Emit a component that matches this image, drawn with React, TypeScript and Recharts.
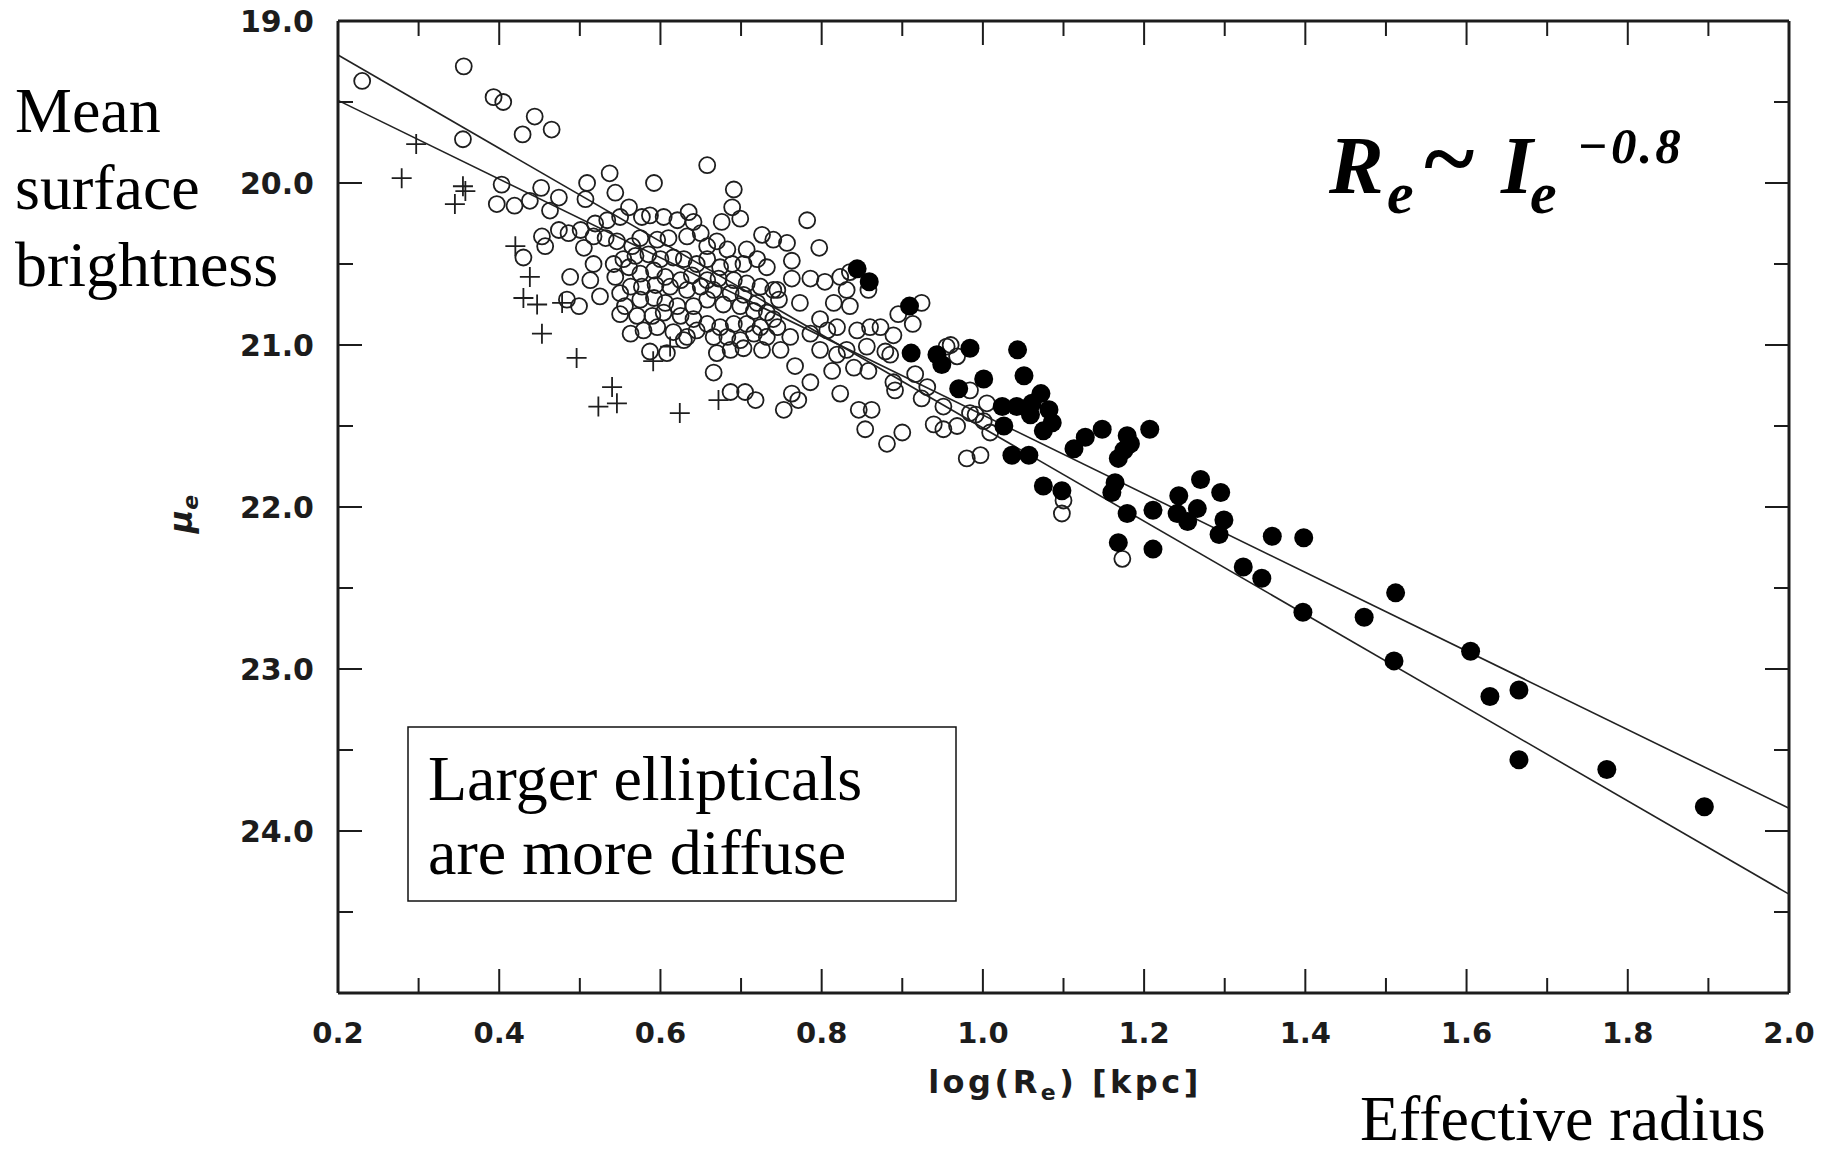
import React from 'react';
import { ScatterChart, Scatter, XAxis, YAxis, ReferenceLine } from 'recharts';

// ---------------- data ----------------
const xMajorTicks = [0.2, 0.4, 0.6, 0.8, 1.0, 1.2, 1.4, 1.6, 1.8, 2.0];
const xMinorTicks = [0.3, 0.5, 0.7, 0.9, 1.1, 1.3, 1.5, 1.7, 1.9];
const yMajorTicks = [19, 20, 21, 22, 23, 24];
const yMinorTicks = [19.5, 20.5, 21.5, 22.5, 23.5, 24.5];

// open circles: [log(Re), mu_e]
const openGalaxies: [number, number][] = [
  [0.230, 19.37], [0.356, 19.28], [0.393, 19.47], [0.405, 19.50], [0.444, 19.59], [0.429, 19.70],
  [0.465, 19.67], [0.355, 19.73], [0.403, 20.01], [0.452, 20.03], [0.397, 20.13], [0.419, 20.14],
  [0.438, 20.11], [0.463, 20.17], [0.474, 20.09], [0.453, 20.33], [0.457, 20.39], [0.474, 20.29],
  [0.430, 20.46], [0.537, 19.94], [0.658, 19.89],
  [0.509, 20.00], [0.507, 20.10], [0.544, 20.06], [0.561, 20.15], [0.592, 20.00], [0.691, 20.04],
  [0.689, 20.15], [0.676, 20.24], [0.699, 20.22], [0.635, 20.18], [0.641, 20.24], [0.621, 20.23],
  [0.604, 20.21], [0.587, 20.20], [0.577, 20.21], [0.550, 20.21], [0.534, 20.23], [0.519, 20.25],
  [0.501, 20.29], [0.486, 20.31], [0.505, 20.40], [0.517, 20.33], [0.532, 20.34], [0.546, 20.36],
  [0.565, 20.39], [0.575, 20.34], [0.596, 20.35], [0.610, 20.34], [0.633, 20.33], [0.650, 20.31],
  [0.658, 20.39], [0.670, 20.36], [0.683, 20.41], [0.707, 20.41], [0.726, 20.32], [0.740, 20.35],
  [0.720, 20.47], [0.732, 20.52], [0.703, 20.50], [0.689, 20.50], [0.674, 20.52], [0.658, 20.47],
  [0.645, 20.50], [0.629, 20.47], [0.616, 20.46], [0.600, 20.47], [0.585, 20.44], [0.569, 20.45],
  [0.554, 20.47], [0.542, 20.50], [0.517, 20.50], [0.488, 20.58], [0.513, 20.60], [0.544, 20.58],
  [0.561, 20.52], [0.575, 20.56], [0.592, 20.54], [0.606, 20.58], [0.625, 20.60], [0.639, 20.57],
  [0.658, 20.60], [0.672, 20.59], [0.691, 20.60], [0.707, 20.62], [0.724, 20.64], [0.740, 20.66],
  [0.747, 20.72], [0.720, 20.74], [0.703, 20.69], [0.687, 20.68], [0.666, 20.66], [0.650, 20.64],
  [0.633, 20.66], [0.612, 20.64], [0.594, 20.63], [0.577, 20.64], [0.563, 20.64], [0.550, 20.68],
  [0.525, 20.70], [0.499, 20.76], [0.484, 20.72], [0.556, 20.76], [0.575, 20.72], [0.592, 20.71],
  [0.606, 20.74], [0.621, 20.76], [0.641, 20.76], [0.658, 20.72], [0.678, 20.75], [0.699, 20.76],
  [0.716, 20.79], [0.732, 20.80], [0.740, 20.84], [0.724, 20.89], [0.707, 20.87], [0.691, 20.87],
  [0.674, 20.89], [0.658, 20.87], [0.641, 20.84], [0.625, 20.82], [0.604, 20.80], [0.590, 20.82],
  [0.571, 20.82], [0.550, 20.81], [0.563, 20.93], [0.579, 20.91], [0.596, 20.89], [0.616, 20.92],
  [0.633, 20.95], [0.645, 20.91], [0.666, 20.95], [0.683, 20.95], [0.699, 20.97], [0.716, 20.93],
  [0.732, 20.95], [0.726, 21.03], [0.703, 21.02], [0.687, 21.03], [0.670, 21.05], [0.629, 20.97],
  [0.587, 21.04], [0.608, 21.05],
  [0.782, 20.23], [0.757, 20.37], [0.797, 20.40], [0.763, 20.48], [0.786, 20.59], [0.804, 20.61],
  [0.823, 20.58], [0.835, 20.55], [0.858, 20.66], [0.831, 20.66], [0.763, 20.59], [0.745, 20.66],
  [0.773, 20.74], [0.924, 20.74], [0.895, 20.81], [0.913, 20.87], [0.815, 20.74], [0.835, 20.76],
  [0.798, 20.84], [0.819, 20.89], [0.844, 20.91], [0.860, 20.89], [0.873, 20.89], [0.889, 20.94],
  [0.761, 20.95], [0.745, 20.89], [0.786, 20.93], [0.798, 21.03], [0.831, 21.03], [0.856, 21.01],
  [0.879, 21.04], [0.955, 21.01], [0.807, 20.91],
  [0.749, 21.03], [0.767, 21.13], [0.786, 21.23], [0.763, 21.30], [0.771, 21.34], [0.753, 21.40],
  [0.819, 21.06], [0.813, 21.16], [0.823, 21.30], [0.846, 21.40], [0.862, 21.40], [0.854, 21.52],
  [0.881, 21.61], [0.900, 21.54], [0.840, 21.14], [0.858, 21.16], [0.889, 21.23], [0.891, 21.28],
  [0.916, 21.18], [0.931, 21.26], [0.924, 21.33], [0.968, 21.07], [0.984, 21.28], [0.951, 21.38],
  [0.939, 21.49], [0.951, 21.52], [0.968, 21.50], [0.984, 21.42], [1.005, 21.36], [1.001, 21.47],
  [1.009, 21.54], [0.980, 21.70], [0.997, 21.68], [0.885, 21.06],
  [0.960, 21.00], [0.991, 21.43], [1.098, 22.04], [1.100, 21.96], [1.173, 22.32],
  [0.666, 21.17], [0.687, 21.29], [0.705, 21.29], [0.718, 21.34],
];

// crosses: [log(Re), mu_e]
const crossGalaxies: [number, number][] = [
  [0.297, 19.76], [0.279, 19.97], [0.355, 20.02], [0.358, 20.05], [0.345, 20.13], [0.420, 20.39],
  [0.438, 20.58], [0.430, 20.71], [0.447, 20.75], [0.478, 20.74], [0.453, 20.93], [0.496, 21.08],
  [0.540, 21.26], [0.523, 21.38], [0.546, 21.36], [0.624, 21.42], [0.672, 21.34], [0.591, 21.10],
  [0.612, 21.01],
];

// filled circles: [log(Re), mu_e]
const filledGalaxies: [number, number][] = [
  [0.844, 20.53], [0.859, 20.61], [0.909, 20.76], [0.911, 21.05], [0.943, 21.06], [0.949, 21.12],
  [0.984, 21.02], [1.043, 21.03], [1.051, 21.19], [1.001, 21.21], [0.970, 21.27], [1.072, 21.30],
  [1.024, 21.38], [1.042, 21.38], [1.061, 21.36], [1.059, 21.43], [1.082, 21.40], [1.086, 21.48],
  [1.075, 21.53], [1.026, 21.50], [1.036, 21.68], [1.057, 21.68], [1.075, 21.87], [1.098, 21.90],
  [1.113, 21.64], [1.127, 21.57], [1.148, 21.52], [1.179, 21.56], [1.183, 21.61], [1.175, 21.65],
  [1.168, 21.70], [1.207, 21.52], [1.164, 21.85], [1.160, 21.91], [1.179, 22.04], [1.211, 22.02],
  [1.168, 22.22], [1.211, 22.26], [1.270, 21.83], [1.295, 21.91], [1.243, 21.93], [1.266, 22.01],
  [1.241, 22.04], [1.254, 22.09], [1.299, 22.08], [1.293, 22.17], [1.359, 22.18], [1.398, 22.19],
  [1.323, 22.37], [1.346, 22.44], [1.397, 22.65], [1.473, 22.68], [1.512, 22.53], [1.510, 22.95],
  [1.605, 22.89], [1.629, 23.17], [1.665, 23.13], [1.665, 23.56], [1.774, 23.62], [1.895, 23.85],
];

// fitted relations: endpoints [log(Re), mu_e]
const fitSteep: [number, number][] = [[0.2, 19.21], [2.0, 24.39]];
const fitShallow: [number, number][] = [[0.2, 19.49], [2.0, 23.86]];

// ---------------- layout ----------------
const W = 1839;
const H = 1156;
const PL = 338;
const PR = 1789;
const PT = 21;
const PB = 993;
const LEFT_AXIS_W = 200;
const BOTTOM_AXIS_H = 120;
const INK = '#1c1c1c';
const TICK_FONT = '"DejaVu Sans", Arial, sans-serif';
const SERIF = '"Liberation Serif", "Times New Roman", serif';

const toPoints = (arr: [number, number][]) => arr.map(([x, y]) => ({ x, y }));
const isMajor = (v: number, majors: number[]) => majors.some((m) => Math.abs(m - v) < 1e-6);

const allXTicks = [...xMajorTicks, ...xMinorTicks].sort((a, b) => a - b);
const allYTicks = [...yMajorTicks, ...yMinorTicks].sort((a, b) => a - b);

function XTick(props: any) {
  const { x, payload } = props;
  const v = payload.value as number;
  const major = isMajor(v, xMajorTicks);
  const len = major ? 24 : 15;
  return (
    <g>
      <line x1={x} x2={x} y1={PB} y2={PB - len} stroke={INK} strokeWidth={2} />
      <line x1={x} x2={x} y1={PT} y2={PT + len} stroke={INK} strokeWidth={2} />
      {major && (
        <text x={x} y={PB + 50} textAnchor="middle" fontFamily={TICK_FONT} fontWeight="bold" fontSize={29} fill={INK}>
          {v.toFixed(1)}
        </text>
      )}
    </g>
  );
}

function YTick(props: any) {
  const { y, payload } = props;
  const v = payload.value as number;
  const major = isMajor(v, yMajorTicks);
  const len = major ? 24 : 15;
  return (
    <g>
      <line x1={PL} x2={PL + len} y1={y} y2={y} stroke={INK} strokeWidth={2} />
      <line x1={PR} x2={PR - len} y1={y} y2={y} stroke={INK} strokeWidth={2} />
      {major && (
        <text x={PL - 24} y={y + 11} textAnchor="end" fontFamily={TICK_FONT} fontWeight="bold" fontSize={30} fill={INK}>
          {v.toFixed(1)}
        </text>
      )}
    </g>
  );
}

const OpenCircle = (p: any) => (
  <circle cx={p.cx} cy={p.cy} r={8} fill="none" stroke="#1e1e1e" strokeWidth={1.8} />
);
const FilledCircle = (p: any) => <circle cx={p.cx} cy={p.cy} r={9.5} fill="#000" />;
const Cross = (p: any) => (
  <path
    d={`M${p.cx - 10},${p.cy}H${p.cx + 10}M${p.cx},${p.cy - 10}V${p.cy + 10}`}
    stroke="#1e1e1e"
    strokeWidth={1.8}
    fill="none"
  />
);

export default function App() {
  return (
    <div style={{ position: 'absolute', left: 0, top: 0, width: W, height: H, background: '#fff', overflow: 'hidden' }}>
      <ScatterChart
        width={W}
        height={H}
        margin={{ top: PT, right: W - PR, bottom: H - PB - BOTTOM_AXIS_H, left: PL - LEFT_AXIS_W }}
      >
        <XAxis
          type="number"
          dataKey="x"
          domain={[0.2, 2.0]}
          ticks={allXTicks}
          interval={0}
          allowDataOverflow
          height={BOTTOM_AXIS_H}
          tickSize={0}
          tickLine={false}
          axisLine={{ stroke: INK, strokeWidth: 3 }}
          tick={<XTick />}
        />
        <YAxis
          type="number"
          dataKey="y"
          domain={[19, 25]}
          reversed
          ticks={allYTicks}
          interval={0}
          allowDataOverflow
          width={LEFT_AXIS_W}
          tickSize={0}
          tickLine={false}
          axisLine={{ stroke: INK, strokeWidth: 3 }}
          tick={<YTick />}
        />
        <ReferenceLine y={19} stroke={INK} strokeWidth={3} ifOverflow="visible" />
        <ReferenceLine x={2.0} stroke={INK} strokeWidth={3} ifOverflow="visible" />
        <Scatter data={toPoints(openGalaxies)} shape={OpenCircle} isAnimationActive={false} />
        <Scatter data={toPoints(crossGalaxies)} shape={Cross} isAnimationActive={false} />
        <Scatter data={toPoints(filledGalaxies)} shape={FilledCircle} isAnimationActive={false} />
        <ReferenceLine
          segment={fitSteep.map(([x, y]) => ({ x, y }))}
          stroke="#222"
          strokeWidth={1.6}
          ifOverflow="visible"
        />
        <ReferenceLine
          segment={fitShallow.map(([x, y]) => ({ x, y }))}
          stroke="#222"
          strokeWidth={1.6}
          ifOverflow="visible"
        />
      </ScatterChart>
      <svg
        width={W}
        height={H}
        style={{ position: 'absolute', left: 0, top: 0, pointerEvents: 'none' }}
      >
        {/* axis titles */}
        <text x={1065} y={1093} textAnchor="middle" fontFamily={TICK_FONT} fontWeight="bold" fontSize={32} fill={INK} letterSpacing={3.5}>
          log(R<tspan dy={7} fontSize={22}>e</tspan>
          <tspan dy={-7}>)  [kpc]</tspan>
        </text>
        <text
          x={192}
          y={514}
          transform="rotate(-90 192 514)"
          textAnchor="middle"
          fontFamily={TICK_FONT}
          fontWeight="bold"
          fontStyle="italic"
          fontSize={32}
          fill={INK}
        >
          μ<tspan dy={6} fontSize={22}>e</tspan>
        </text>

        {/* annotations */}
        <text fontFamily={SERIF} fontSize={64} fill="#000">
          <tspan x={15} y={132}>Mean</tspan>
          <tspan x={15} y={209}>surface</tspan>
          <tspan x={15} y={286}>brightness</tspan>
        </text>

        <g fontFamily={SERIF} fontWeight="bold" fontStyle="italic" fill="#000">
          <text x={1329} y={193} fontSize={82}>R</text>
          <text x={1387} y={213} fontSize={60}>e</text>
          <text x={1421} y={190} fontSize={96}>~</text>
          <text x={1501} y={193} fontSize={82}>I</text>
          <text x={1530} y={213} fontSize={60}>e</text>
          <text x={1577} y={163} fontSize={51} letterSpacing={3}>−0.8</text>
        </g>

        <rect x={408} y={727} width={548} height={174} fill="#fff" stroke="#111" strokeWidth={1.5} />
        <text fontFamily={SERIF} fontSize={64} fill="#000">
          <tspan x={428} y={800}>Larger ellipticals</tspan>
          <tspan x={428} y={874}>are more diffuse</tspan>
        </text>

        <text x={1360} y={1140} fontFamily={SERIF} fontSize={64} fill="#000">
          Effective radius
        </text>
      </svg>
    </div>
  );
}
